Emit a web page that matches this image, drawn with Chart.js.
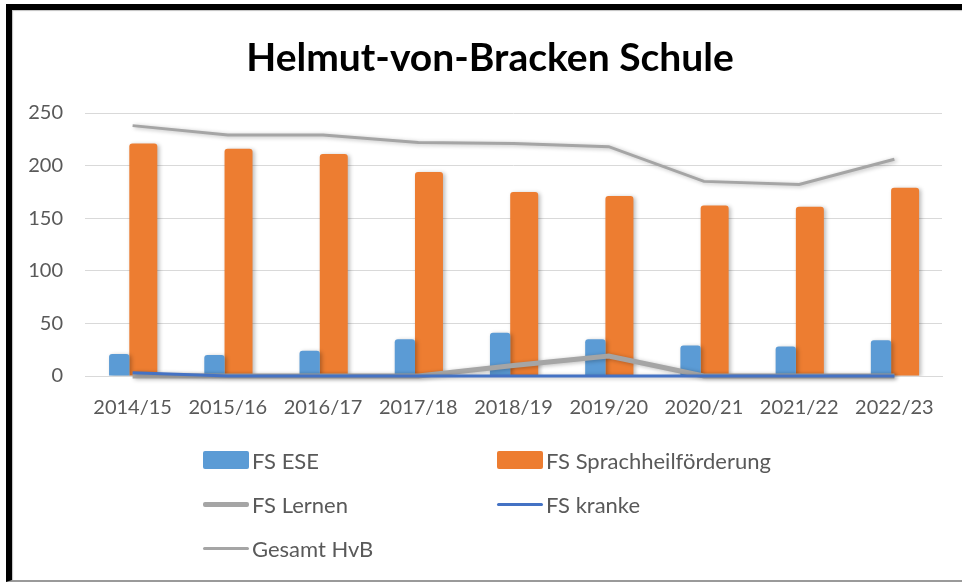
<!DOCTYPE html>
<html>
<head>
<meta charset="utf-8">
<script src="https://cdn.jsdelivr.net/npm/chart.js@4.4.1/dist/chart.umd.min.js"></script>
<style>
  html, body { margin: 0; padding: 0; background: #fff; }
  #wrap { position: relative; width: 962px; height: 583px; overflow: hidden; }
  #chart { position: absolute; left: 0; top: 0; }
  #title {
    position: absolute; left: 0; width: 980px; top: 33px; text-align: center;
    font-family: Lato, sans-serif; font-weight: bold; font-size: 39px; line-height: 47px; color: #000;
  }
  #frame {
    position: absolute; left: 6px; top: 4px; right: -10px; bottom: 1px;
    border-top: 6px solid #000; border-left: 6px solid #000;
    border-bottom: 2px solid #9a9a9a; pointer-events: none;
    box-shadow: inset 1px 1px 1px rgba(0,0,0,0.25);
  }
  #legend { position: absolute; left: 203px; top: 442px; font-family: Lato, sans-serif; font-size: 22px; color: #595959; }
  .item { position: absolute; display: flex; align-items: center; height: 36px; white-space: nowrap; }
  .sw { width: 46px; margin-right: 3px; }
</style>
</head>
<body>
<div id="wrap">
  <canvas id="chart" width="962" height="583"></canvas>
  <div id="title">Helmut-von-Bracken Schule</div>
  <div id="legend"></div>
  <div id="frame"></div>
</div>
<script>
// Data
const years = ['2014/15', '2015/16', '2016/17', '2017/18', '2018/19', '2019/20', '2020/21', '2021/22', '2022/23'];
const fsEse = [21, 20, 24, 35, 41, 35, 29, 28, 34];
const fsSprache = [221, 216, 211, 194, 175, 171, 162, 161, 179];
const fsLernen = [0, 0, 0, 0, 10, 19, 0, 0, 0];
const fsKranke = [3, 0, 0, 0, 0, 0, 0, 0, 0];
const gesamtHvB = [238, 229, 229, 222, 221, 218, 185, 182, 206];
const yTicks = [0, 50, 100, 150, 200, 250];

const tickFont = { family: 'Lato', size: 20 };

// soft shadow under bars and lines, like the office chart
const shadowPlugin = {
    id: 'shadow',
    beforeDatasetDraw(chart) {
        const ctx = chart.ctx;
        ctx.save();
        ctx.shadowColor = 'rgba(0,0,0,0.28)';
        ctx.shadowBlur = 4;
        ctx.shadowOffsetX = 2;
        ctx.shadowOffsetY = 1;
    },
    afterDatasetDraw(chart) {
        chart.ctx.restore();
    }
};

const ctx = document.getElementById('chart').getContext('2d');
const chart = new Chart(ctx, {
    type: 'bar',
    data: {
        labels: years,
        datasets: [
            {
                label: 'FS ESE',
                data: fsEse,
                backgroundColor: '#5B9BD5',
                categoryPercentage: 0.563,
                barPercentage: 0.757,
                borderRadius: { topLeft: 3, topRight: 3 },
                borderSkipped: 'start',
                order: 2
            },
            {
                label: 'FS Sprachheilförderung',
                data: fsSprache,
                backgroundColor: '#ED7D31',
                categoryPercentage: 0.4495,
                barPercentage: 1.308,
                borderRadius: { topLeft: 3, topRight: 3 },
                borderSkipped: 'start',
                order: 3
            },
            {
                label: 'FS Lernen',
                type: 'line',
                data: fsLernen,
                borderColor: '#A5A5A5',
                borderWidth: 5,
                pointRadius: 0,
                tension: 0,
                clip: false,
                order: 1
            },
            {
                label: 'FS kranke',
                type: 'line',
                data: fsKranke,
                borderColor: '#4472C4',
                borderWidth: 3,
                pointRadius: 0,
                tension: 0,
                clip: false,
                order: 0
            },
            {
                label: 'Gesamt HvB',
                type: 'line',
                data: gesamtHvB,
                borderColor: '#A5A5A5',
                borderWidth: 3,
                pointRadius: 0,
                tension: 0,
                clip: false,
                order: 0
            }
        ]
    },
    options: {
        responsive: false,
        animation: false,
        layout: { padding: { left: 12, right: 20, top: 113, bottom: 157 } },
        plugins: {
            legend: { display: false },
            tooltip: { enabled: false },
            title: { display: false }
        },
        scales: {
            x: {
                grid: { display: false, drawTicks: false },
                border: { display: true, color: '#d9d9d9', width: 1 },
                ticks: { color: '#595959', font: tickFont, padding: 20, maxRotation: 0 },
                afterFit(scale) { scale.height = 50; }
            },
            y: {
                min: 0,
                max: 250,
                afterBuildTicks(scale) { scale.ticks = yTicks.map(v => ({ value: v })); },
                grid: { color: '#d9d9d9', drawTicks: false },
                border: { display: false },
                ticks: { color: '#595959', font: tickFont, padding: 22 },
                afterFit(scale) { scale.width = 73; }
            }
        }
    },
    plugins: [shadowPlugin]
});

// Legend in two columns, built from the datasets
const legend = document.getElementById('legend');
chart.data.datasets.forEach((ds, i) => {
    const item = document.createElement('div');
    item.className = 'item';
    item.style.left = (i % 2) * 294 + 'px';
    item.style.top = Math.floor(i / 2) * 44 + 'px';
    const sw = document.createElement('div');
    sw.className = 'sw';
    if (ds.type === 'line') {
        sw.style.height = ds.borderWidth + 'px';
        sw.style.background = ds.borderColor;
        sw.style.borderRadius = '2px';
    } else {
        sw.style.height = '18px';
        sw.style.background = ds.backgroundColor;
        sw.style.borderRadius = '2px';
    }
    const txt = document.createElement('span');
    txt.textContent = ds.label;
    item.appendChild(sw);
    item.appendChild(txt);
    legend.appendChild(item);
});
</script>
</body>
</html>
